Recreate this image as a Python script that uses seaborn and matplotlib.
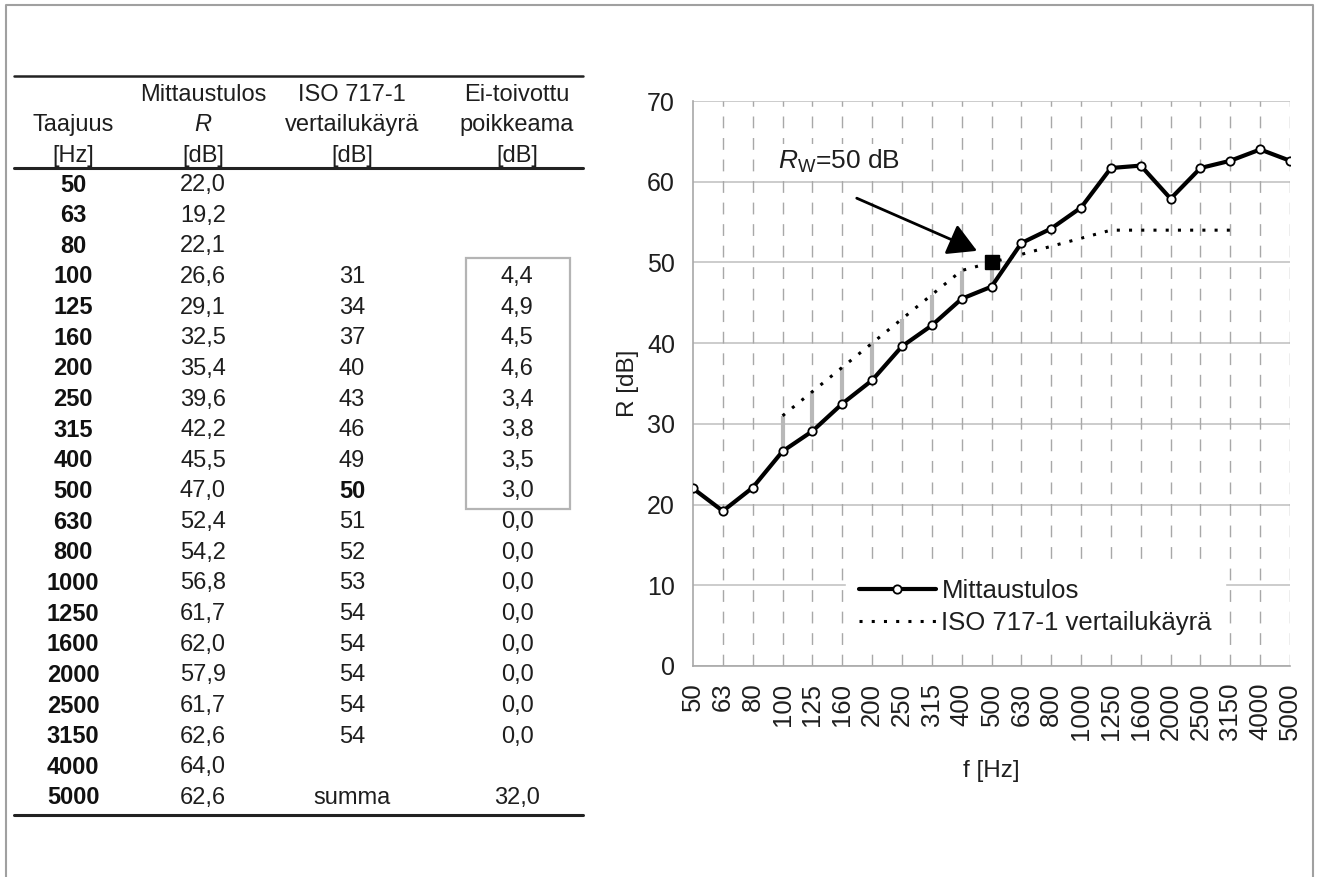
import numpy as np
import pandas as pd
import seaborn as sns
import matplotlib.pyplot as plt
from matplotlib.patches import Rectangle

freqs = ['50', '63', '80', '100', '125', '160', '200', '250', '315', '400', '500',
         '630', '800', '1000', '1250', '1600', '2000', '2500', '3150', '4000', '5000']
mittaus = [22.0, 19.2, 22.1, 26.6, 29.1, 32.5, 35.4, 39.6, 42.2, 45.5, 47.0,
           52.4, 54.2, 56.8, 61.7, 62.0, 57.9, 61.7, 62.6, 64.0, 62.6]
vertailu = [np.nan, np.nan, np.nan, 31, 34, 37, 40, 43, 46, 49, 50,
            51, 52, 53, 54, 54, 54, 54, 54, np.nan, np.nan]
poikkeama = [np.nan, np.nan, np.nan, 4.4, 4.9, 4.5, 4.6, 3.4, 3.8, 3.5, 3.0,
             0.0, 0.0, 0.0, 0.0, 0.0, 0.0, 0.0, 0.0, np.nan, np.nan]
summa = 32.0
rw = 50
rw_freq = '500'

sns.set_style("white")
plt.rcParams['font.family'] = ['Liberation Sans', 'DejaVu Sans']
plt.rcParams['mathtext.fontset'] = 'custom'
plt.rcParams['mathtext.rm'] = 'Liberation Sans'
plt.rcParams['mathtext.it'] = 'Liberation Sans:italic'

df = pd.DataFrame({'freq': freqs, 'pos': np.arange(len(freqs)),
                   'R': mittaus, 'ref': vertailu, 'dev': poikkeama})

fig = plt.figure(figsize=(13.2, 8.77), dpi=100)

# --- table on the left (pixel coordinates) ---
tab = fig.add_axes([0, 0, 1, 1])
tab.set_xlim(0, 1320)
tab.set_ylim(877, 0)
tab.axis('off')

# page border
tab.plot([6, 6, 1313, 1313], [877, 5, 5, 877], color='#a0a0a0', lw=1.5)

cols = [73, 203, 352, 517]
fs = 17
txt = '#1e1e1e'
head = [['', 'Mittaustulos', 'ISO 717-1', 'Ei-toivottu'],
        ['Taajuus', '$\\it{R}$', 'vertailukäyrä', 'poikkeama'],
        ['[Hz]', '[dB]', '[dB]', '[dB]']]
for r, yy in zip(head, [95, 125, 156]):
    for c, t in zip(cols, r):
        tab.text(c, yy, t, ha='center', va='center', fontsize=fs, color=txt)

tab.plot([14, 583], [76, 76], color='#222', lw=1.8)
tab.plot([14, 583], [168, 168], color='#222', lw=2.2)
tab.plot([14, 583], [815, 815], color='#222', lw=2.2)

y0, dy = 185, 30.65
fmt = lambda v: f"{v:.1f}".replace('.', ',')
for i, f in enumerate(freqs):
    yy = y0 + dy * i
    tab.text(cols[0], yy, f, ha='center', va='center', fontsize=fs, fontweight='bold', color='#111')
    tab.text(cols[1], yy, fmt(mittaus[i]), ha='center', va='center', fontsize=fs, color=txt)
    if not np.isnan(vertailu[i]):
        bold = 'bold' if f == rw_freq else 'normal'
        tab.text(cols[2], yy, f"{int(vertailu[i])}", ha='center', va='center',
                 fontsize=fs, fontweight=bold, color='#111' if bold == 'bold' else txt)
        tab.text(cols[3], yy, fmt(poikkeama[i]), ha='center', va='center', fontsize=fs, color=txt)
tab.text(cols[2], y0 + dy * 20, 'summa', ha='center', va='center', fontsize=fs, color=txt)
tab.text(cols[3], y0 + dy * 20, fmt(summa), ha='center', va='center', fontsize=fs, color=txt)

# box round the unfavourable deviations
nz = [i for i, v in enumerate(poikkeama) if v > 0]
tab.add_patch(Rectangle((466, y0 + dy * nz[0] - 19), 104, dy * (len(nz) - 1) + 36,
                        fill=False, edgecolor='#b4b4b4', lw=1.6))

# --- chart on the right ---
ax = fig.add_axes([0.525, 0.2406, 0.4523, 0.6442])

for yv in range(0, 71, 10):
    ax.axhline(yv, color='#c4c4c4', lw=1.2, zorder=0)
for xv in range(1, len(freqs)):
    ax.axvline(xv, color='#a8a8a8', lw=1.0, ls=(0, (8.5, 7)), zorder=0)

sub = df.dropna(subset=['dev'])
sub = sub[sub['dev'] > 0]
ax.vlines(sub['pos'], sub['R'], sub['ref'], color='#b8b8b8', lw=3, zorder=1)

sns.lineplot(data=df.dropna(subset=['ref']), x='pos', y='ref', ax=ax, color='black',
             lw=2.2, ls=(0, (1, 3)), sort=False, label='ISO 717-1 vertailukäyrä', zorder=2)
sns.lineplot(data=df, x='pos', y='R', ax=ax, color='black', lw=3, marker='o',
             markersize=6, markerfacecolor='white', markeredgecolor='black',
             markeredgewidth=1.3, sort=False, label='Mittaustulos', zorder=3)

rw_pos = freqs.index(rw_freq)
ax.plot([rw_pos], [rw], marker='s', color='black', markersize=10, zorder=4)
ax.annotate('', xy=(rw_pos - 0.4, rw + 1.3), xytext=(rw_pos - 4.6, rw + 8.1),
            arrowprops=dict(arrowstyle='-|>,head_length=0.8,head_width=0.45',
                            color='black', lw=2, mutation_scale=22), zorder=5)
ax.text(rw_pos - 7.15, rw + 12.5, '$R_{\\mathrm{W}}$=50 dB', fontsize=19, ha='left',
        va='center', color=txt, zorder=5,
        bbox=dict(facecolor='white', edgecolor='none', pad=3))

ax.set_xlim(0, len(freqs) - 1)
ax.set_ylim(0, 70)
ax.set_yticks(range(0, 71, 10))
ax.set_xticks(df['pos'])
ax.set_xticklabels(freqs, rotation=90)
ax.tick_params(axis='both', colors=txt, length=7, width=1, direction='out')
ax.tick_params(axis='both', color='#a8a8a8')
ax.tick_params(axis='x', labelsize=18.5, pad=5)
ax.tick_params(axis='y', labelsize=18, pad=6)
for s in ['top', 'right']:
    ax.spines[s].set_visible(False)
for s in ['left', 'bottom']:
    ax.spines[s].set_color('#a8a8a8')
    ax.spines[s].set_linewidth(1.2)
ax.set_xlabel('f [Hz]', fontsize=17.5, color=txt, labelpad=14)
ax.set_ylabel('R [dB]', fontsize=17.5, color=txt, labelpad=6)

h, l = ax.get_legend_handles_labels()
order = [l.index('Mittaustulos'), l.index('ISO 717-1 vertailukäyrä')]
leg = ax.legend([h[i] for i in order], [l[i] for i in order], loc='upper left',
                bbox_to_anchor=(0.256, 0.177), borderaxespad=0, fontsize=18.5, frameon=True,
                facecolor='white', edgecolor='white', framealpha=1, fancybox=False,
                handlelength=3.0, handletextpad=0.22, borderpad=0.5, labelspacing=0.3)
leg.set_zorder(6)
for t in leg.get_texts():
    t.set_color(txt)

fig.savefig('out.png', dpi=100)
